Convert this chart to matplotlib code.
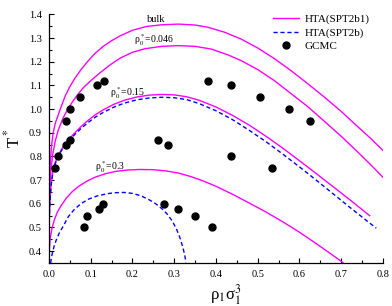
import numpy as np
import matplotlib
matplotlib.use("Agg")
import matplotlib.pyplot as plt

plt.rcParams['font.family'] = ['Liberation Serif', 'DejaVu Serif']
plt.rcParams['mathtext.fontset'] = 'stix'

# HTA(SPT2b1), bulk
bulk_x = [0.0, 0.001, 0.003, 0.006, 0.01, 0.015, 0.02, 0.03, 0.04, 0.05, 0.062, 0.076, 0.092,
          0.11, 0.13, 0.15, 0.17, 0.20, 0.234, 0.27, 0.31, 0.35, 0.38, 0.42, 0.46, 0.50, 0.54,
          0.58, 0.62, 0.66, 0.70, 0.74, 0.77, 0.80]
bulk_t = [0.55, 0.67, 0.77, 0.845, 0.90, 0.94, 0.965, 1.015, 1.06, 1.095, 1.13, 1.165, 1.20,
          1.235, 1.265, 1.289, 1.309, 1.333, 1.349, 1.356, 1.359, 1.355, 1.346, 1.325, 1.296,
          1.258, 1.213, 1.162, 1.107, 1.05, 0.99, 0.925, 0.877, 0.825]

# HTA(SPT2b1), rho0 = 0.046
r046_x = [0.0, 0.002, 0.005, 0.009, 0.015, 0.022, 0.033, 0.045, 0.056, 0.068, 0.082, 0.10,
          0.12, 0.145, 0.17, 0.20, 0.23, 0.27, 0.31, 0.35, 0.39, 0.43, 0.46, 0.50, 0.54, 0.58,
          0.62, 0.66, 0.70, 0.74, 0.77, 0.80]
r046_t = [0.55, 0.67, 0.75, 0.81, 0.865, 0.91, 0.96, 1.0, 1.03, 1.06, 1.09, 1.12, 1.15, 1.185,
          1.215, 1.24, 1.255, 1.265, 1.268, 1.265, 1.253, 1.228, 1.205, 1.167, 1.12, 1.065,
          1.01, 0.948, 0.885, 0.818, 0.766, 0.712]

# HTA(SPT2b1), rho0 = 0.15
r015_x = [0.0, 0.002, 0.005, 0.009, 0.014, 0.022, 0.03, 0.04, 0.05, 0.062, 0.076, 0.092, 0.11,
          0.13, 0.155, 0.18, 0.21, 0.24, 0.27, 0.30, 0.33, 0.36, 0.40, 0.44, 0.48, 0.52, 0.56,
          0.60, 0.64, 0.68, 0.72, 0.768]
r015_t = [0.50, 0.60, 0.68, 0.735, 0.77, 0.805, 0.83, 0.855, 0.877, 0.90, 0.925, 0.95, 0.975,
          0.997, 1.02, 1.037, 1.051, 1.059, 1.062, 1.06, 1.052, 1.037, 1.009, 0.973, 0.932,
          0.885, 0.835, 0.782, 0.728, 0.673, 0.618, 0.55]

# HTA(SPT2b), rho0 = 0.15
r015b_x = [0.0, 0.002, 0.005, 0.009, 0.014, 0.022, 0.03, 0.04, 0.05, 0.062, 0.076, 0.092, 0.11,
           0.13, 0.155, 0.18, 0.21, 0.24, 0.27, 0.30, 0.33, 0.36, 0.40, 0.44, 0.48, 0.52, 0.56,
           0.60, 0.64, 0.68, 0.72, 0.76, 0.784]
r015b_t = [0.50, 0.60, 0.675, 0.73, 0.765, 0.80, 0.825, 0.85, 0.871, 0.893, 0.917, 0.941, 0.965,
           0.986, 1.008, 1.025, 1.039, 1.047, 1.05, 1.048, 1.04, 1.023, 0.993, 0.955, 0.91,
           0.862, 0.81, 0.756, 0.70, 0.643, 0.586, 0.53, 0.497]

# HTA(SPT2b1), rho0 = 0.3
r03_x = [0.0, 0.001, 0.003, 0.007, 0.012, 0.02, 0.03, 0.042, 0.056, 0.072, 0.09, 0.11, 0.135,
         0.16, 0.19, 0.22, 0.25, 0.28, 0.31, 0.34, 0.37, 0.40, 0.44, 0.48, 0.52, 0.56, 0.60,
         0.64, 0.67, 0.704]
r03_t = [0.36, 0.41, 0.455, 0.495, 0.528, 0.565, 0.595, 0.625, 0.652, 0.675, 0.695, 0.712,
         0.727, 0.737, 0.743, 0.745, 0.744, 0.739, 0.73, 0.715, 0.696, 0.674, 0.64, 0.603,
         0.565, 0.524, 0.48, 0.432, 0.395, 0.352]

# HTA(SPT2b), rho0 = 0.3
r03b_x = [0.004, 0.006, 0.009, 0.013, 0.018, 0.025, 0.034, 0.046, 0.06, 0.076, 0.095, 0.115,
          0.14, 0.16, 0.18, 0.20, 0.22, 0.24, 0.255, 0.27, 0.283, 0.295, 0.305, 0.313, 0.32,
          0.325, 0.328]
r03b_t = [0.35, 0.375, 0.40, 0.425, 0.45, 0.478, 0.505, 0.545, 0.575, 0.60, 0.62, 0.633, 0.643,
          0.647, 0.648, 0.644, 0.634, 0.617, 0.601, 0.58, 0.557, 0.528, 0.495, 0.46, 0.42,
          0.385, 0.352]

# GCMC points
gcmc_x = [0.014, 0.022, 0.040, 0.050, 0.040, 0.050, 0.075, 0.115, 0.131, 0.085, 0.090, 0.120,
          0.130, 0.260, 0.285, 0.276, 0.310, 0.350, 0.381, 0.436, 0.505, 0.575, 0.625, 0.436,
          0.535, 0.391]
gcmc_t = [0.75, 0.80, 0.95, 1.00, 0.85, 0.87, 1.05, 1.10, 1.12, 0.50, 0.55, 0.58, 0.60, 0.87,
          0.85, 0.60, 0.58, 0.55, 1.12, 1.10, 1.05, 1.00, 0.95, 0.80, 0.75, 0.50]

mag = '#ff00ff'
blu = '#0000ff'

fig = plt.figure(figsize=(3.92, 3.06), dpi=100)
ax = fig.add_axes([0.125, 0.1405, 0.852, 0.8125])

ax.plot(bulk_x, bulk_t, color=mag, lw=1.0, label='HTA(SPT2b1)')
ax.plot(r046_x, r046_t, color=mag, lw=1.0)
ax.plot(r015_x, r015_t, color=mag, lw=1.0)
ax.plot(r03_x, r03_t, color=mag, lw=1.0)
ax.plot(r015b_x, r015b_t, color=blu, lw=1.0, dashes=(3, 2), label='HTA(SPT2b)')
ax.plot(r03b_x, r03b_t, color=blu, lw=1.0, dashes=(3, 2))
ax.plot(gcmc_x, gcmc_t, 'o', color='black', ms=5, ls='none', label='GCMC')

# curve labels
ax.text(0.256, 1.378, 'bulk', fontsize=7.5, ha='center', va='center')
ax.text(0.204, 1.291, r'ρ$_0^*$=0.046', fontsize=7, ha='left', va='center')
ax.text(0.146, 1.067, r'ρ$_0^*$=0.15', fontsize=7, ha='left', va='center')
ax.text(0.110, 0.755, r'ρ$_0^*$=0.3', fontsize=7, ha='left', va='center')

ax.set_xlim(0.0, 0.8)
ax.set_ylim(0.35, 1.4)
ax.set_xticks(np.arange(0.0, 0.81, 0.1))
ax.set_xticks(np.arange(0.05, 0.8, 0.1), minor=True)
ax.set_yticks(np.arange(0.4, 1.41, 0.1))
ax.set_yticks(np.arange(0.35, 1.4, 0.1), minor=True)
ax.set_xticklabels(['%.1f' % v for v in np.arange(0.0, 0.81, 0.1)])
ax.set_yticklabels(['%.1f' % v for v in np.arange(0.4, 1.41, 0.1)])
ax.tick_params(which='major', direction='in', length=3.5, width=0.8, labelsize=7.5, pad=5)
ax.tick_params(which='minor', direction='in', length=2, width=0.8)
ax.spines['top'].set_visible(False)
ax.spines['right'].set_visible(False)
ax.spines['left'].set_linewidth(0.9)
ax.spines['bottom'].set_linewidth(0.9)

ax.set_xlabel(r'ρ$_1$σ$_1^3$', fontsize=12, labelpad=2, x=0.53)
ax.set_ylabel(r'T$^*$', fontsize=12, labelpad=4)

ax.legend(loc='upper left', bbox_to_anchor=(0.672, 1.0), frameon=False, fontsize=8,
          handlelength=2.3, handletextpad=0.5, labelspacing=0.3, borderpad=0,
          borderaxespad=0)

fig.savefig('out.png', dpi=100)
